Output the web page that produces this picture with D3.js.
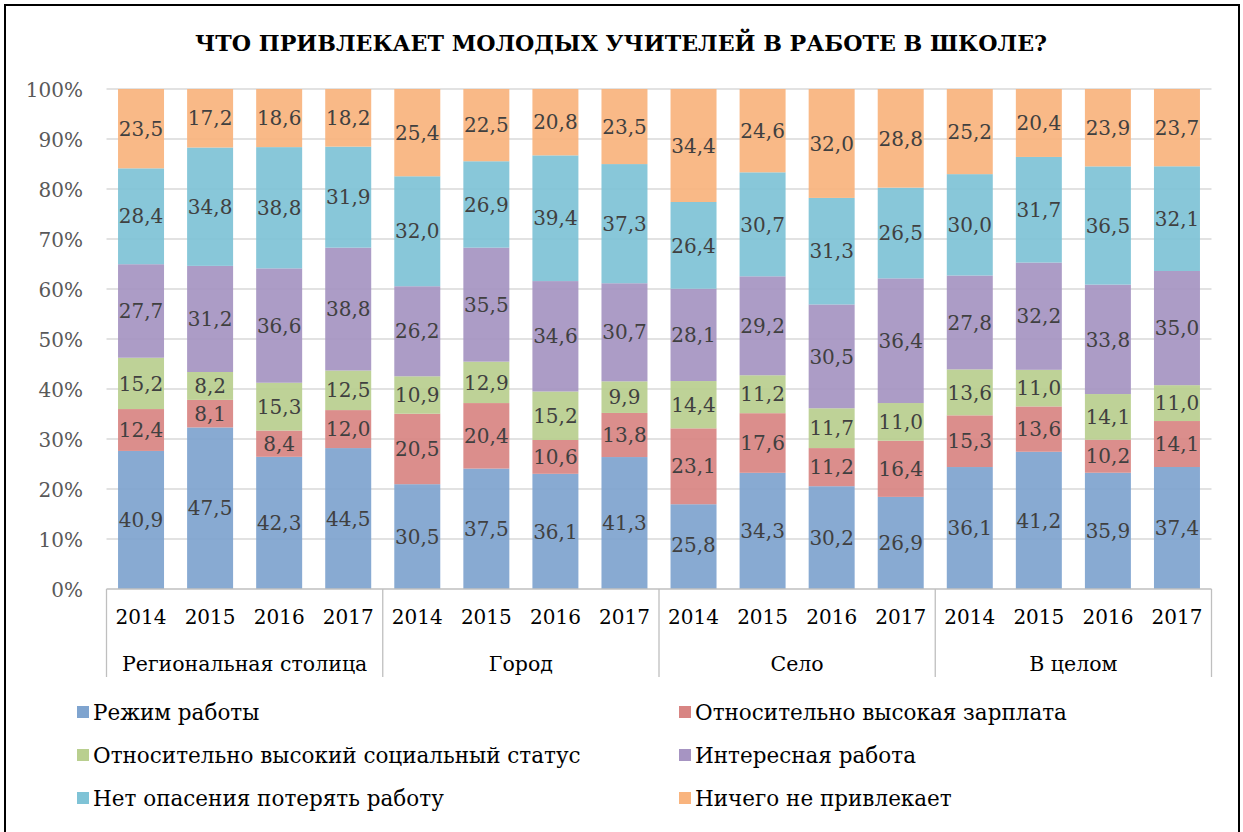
<!DOCTYPE html>
<html><head><meta charset="utf-8">
<script src="https://cdn.jsdelivr.net/npm/d3@7"></script>
<style>
html,body{margin:0;padding:0;background:#fff;}
svg{display:block;font-family:"DejaVu Serif","Liberation Serif",serif;}
</style></head>
<body>
<svg id="chart" width="1243" height="832"></svg>
<script>
const title = "ЧТО ПРИВЛЕКАЕТ МОЛОДЫХ УЧИТЕЛЕЙ В РАБОТЕ В ШКОЛЕ?";
const groups = ["Региональная столица", "Город", "Село", "В целом"];
const years = ["2014", "2015", "2016", "2017"];
const seriesNames = ["Режим работы", "Относительно высокая зарплата", "Относительно высокий социальный статус", "Интересная работа", "Нет опасения потерять работу", "Ничего не привлекает"];
const seriesColors = ["#7fa4cf", "#d88583", "#b9cf8f", "#a694c2", "#7fc3d6", "#f9b47e"];
// values per bar (16 bars: group × year)
const rezhim   = [40.9, 47.5, 42.3, 44.5, 30.5, 37.5, 36.1, 41.3, 25.8, 34.3, 30.2, 26.9, 36.1, 41.2, 35.9, 37.4];
const zarplata = [12.4, 8.1, 8.4, 12.0, 20.5, 20.4, 10.6, 13.8, 23.1, 17.6, 11.2, 16.4, 15.3, 13.6, 10.2, 14.1];
const status   = [15.2, 8.2, 15.3, 12.5, 10.9, 12.9, 15.2, 9.9, 14.4, 11.2, 11.7, 11.0, 13.6, 11.0, 14.1, 11.0];
const interes  = [27.7, 31.2, 36.6, 38.8, 26.2, 35.5, 34.6, 30.7, 28.1, 29.2, 30.5, 36.4, 27.8, 32.2, 33.8, 35.0];
const opasenie = [28.4, 34.8, 38.8, 31.9, 32.0, 26.9, 39.4, 37.3, 26.4, 30.7, 31.3, 26.5, 30.0, 31.7, 36.5, 32.1];
const nichego  = [23.5, 17.2, 18.6, 18.2, 25.4, 22.5, 20.8, 23.5, 34.4, 24.6, 32.0, 28.8, 25.2, 20.4, 23.9, 23.7];
const yTicks = [0, 10, 20, 30, 40, 50, 60, 70, 80, 90, 100];

const seriesValues = [rezhim, zarplata, status, interes, opasenie, nichego];
const bars = [];
groups.forEach((g, gi) => years.forEach((y, yi) => {
  const i = gi * years.length + yi;
  const row = {key: g + "|" + y, group: g, year: y};
  seriesValues.forEach((arr, si) => row["s" + si] = arr[i]);
  bars.push(row);
}));
const keys = seriesValues.map((_, si) => "s" + si);
const stacked = d3.stack().keys(keys).offset(d3.stackOffsetExpand)(bars);

const svg = d3.select("#chart");
const m = {left: 106.5, right: 1211.5, top: 89, bottom: 589};

svg.append("rect").attr("x", 5).attr("y", 5).attr("width", 1234).attr("height", 830)
  .attr("fill", "#fff").attr("stroke", "#000").attr("stroke-width", 2);

svg.append("text").attr("x", 621).attr("y", 51).attr("text-anchor", "middle")
  .attr("font-weight", "bold").attr("font-size", 23).attr("fill", "#000")
  .attr("textLength", 852).attr("lengthAdjust", "spacingAndGlyphs")
  .text(title);

const x = d3.scaleBand().domain(bars.map(d => d.key)).range([m.left, m.right])
  .paddingInner(0.334).paddingOuter(0.167);
const y = d3.scaleLinear().domain([0, 1]).range([m.bottom, m.top]);

// gridlines
svg.append("g").selectAll("line").data(yTicks.slice(1)).join("line")
  .attr("x1", m.left).attr("x2", m.right)
  .attr("y1", d => y(d / 100)).attr("y2", d => y(d / 100))
  .attr("stroke", "#d9d9d9").attr("stroke-width", 1.3);

// y axis labels
const yAxis = d3.axisLeft(y).tickValues(yTicks.map(d => d / 100)).tickFormat(d3.format(".0%")).tickSize(0).tickPadding(0);
const ya = svg.append("g").attr("transform", "translate(83,0)").call(yAxis);
ya.select(".domain").remove();
ya.selectAll("text").attr("font-family", "DejaVu Serif").attr("font-size", 20).attr("fill", "#595959").attr("dy", "0.36em");

// bars
const layer = svg.append("g").selectAll("g").data(stacked).join("g")
  .attr("fill", (d, i) => seriesColors[i]);
layer.selectAll("rect").data(d => d).join("rect")
  .attr("x", d => x(d.data.key)).attr("width", x.bandwidth())
  .attr("y", d => y(d[1])).attr("height", d => y(d[0]) - y(d[1]))
  .attr("fill-opacity", 0.93);

// labels
const fmt = v => v.toFixed(1).replace(".", ",");
const lab = svg.append("g").attr("font-size", 20).attr("fill", "#404040").attr("text-anchor", "middle");
stacked.forEach((s, si) => {
  lab.selectAll(null).data(s).join("text")
    .attr("x", d => x(d.data.key) + x.bandwidth() / 2)
    .attr("y", d => si === 0 ? Math.min((y(d[0]) + y(d[1])) / 2, y(0) - 44) : (y(d[0]) + y(d[1])) / 2)
    .attr("dy", "0.36em")
    .text(d => fmt(d.data[s.key]));
});

// x axis line
svg.append("line").attr("x1", m.left).attr("x2", m.right).attr("y1", m.bottom).attr("y2", m.bottom)
  .attr("stroke", "#bfbfbf").attr("stroke-width", 1.3);

// year labels
svg.append("g").selectAll("text").data(bars).join("text")
  .attr("x", d => x(d.key) + x.bandwidth() / 2).attr("y", 617).attr("dy", "0.36em")
  .attr("text-anchor", "middle").attr("font-size", 20).attr("fill", "#000")
  .text(d => d.year);

// group separators and labels
const step = x.step();
const groupEdges = d3.range(groups.length + 1).map(i => m.left + i * years.length * step);
svg.append("g").selectAll("line").data(groupEdges).join("line")
  .attr("x1", d => d).attr("x2", d => d).attr("y1", m.bottom).attr("y2", 677)
  .attr("stroke", "#bfbfbf").attr("stroke-width", 1.3);
svg.append("g").selectAll("text").data(groups).join("text")
  .attr("x", (d, i) => (groupEdges[i] + groupEdges[i + 1]) / 2).attr("y", 664).attr("dy", "0.36em")
  .attr("text-anchor", "middle").attr("font-size", 20.5).attr("fill", "#000")
  .text(d => d);

// legend
const legPos = [[77, 712], [679, 712], [77, 755], [679, 755], [77, 798], [679, 798]];
const leg = svg.append("g").selectAll("g").data(seriesNames).join("g")
  .attr("transform", (d, i) => `translate(${legPos[i][0]},${legPos[i][1]})`);
leg.append("rect").attr("x", 0).attr("y", -6).attr("width", 12).attr("height", 12)
  .attr("fill", (d, i) => seriesColors[i]);
leg.append("text").attr("x", 16).attr("y", 0).attr("dy", "0.36em")
  .attr("font-size", 21.5).attr("fill", "#000").text(d => d);
</script>
</body></html>
